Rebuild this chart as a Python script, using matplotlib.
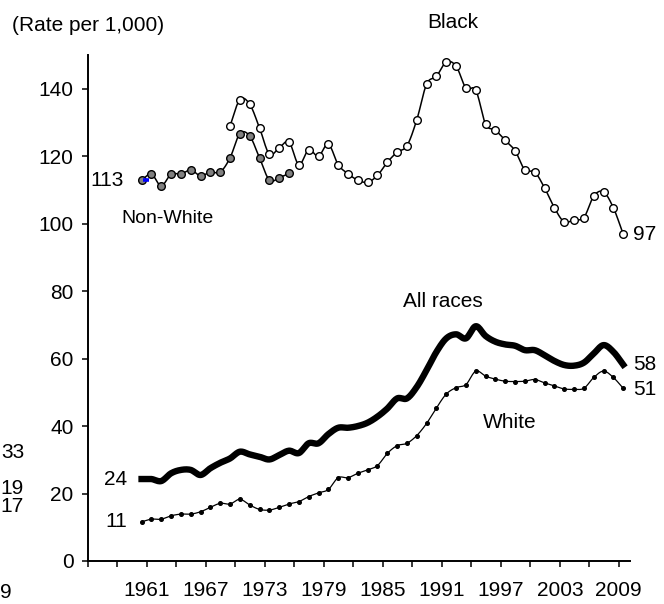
import numpy as np
import matplotlib
matplotlib.use("Agg")
import matplotlib.pyplot as plt

plt.rcParams['font.family'] = ['Liberation Sans', 'DejaVu Sans']
plt.rcParams['font.size'] = 15

# birth rates per 1,000
years_nonwhite = np.arange(1960, 1976)
nonwhite = [112.9, 114.7, 111.2, 114.7, 114.7, 115.9, 114.2, 115.3, 115.3, 119.5,
            126.7, 126.0, 119.5, 112.9, 113.6, 114.9]

years_black = np.arange(1969, 2010)
black = [129.0, 136.8, 135.4, 128.4, 120.6, 122.5, 124.2, 117.5, 121.9, 120.0,
         123.6, 117.5, 114.8, 112.9, 112.3, 114.3, 118.2, 121.2, 123.1, 130.8,
         141.4, 143.7, 147.9, 146.7, 140.2, 139.6, 129.5, 127.7, 124.7, 121.6,
         115.9, 115.3, 110.6, 104.7, 100.5, 101.2, 101.8, 108.2, 109.4, 104.7, 96.9]

years_all = np.arange(1960, 2010)
all_races = [24.3, 24.3, 23.7, 26.0, 27.0, 27.0, 25.5, 27.5, 29.1, 30.4,
             32.4, 31.6, 30.9, 30.1, 31.4, 32.7, 32.0, 34.9, 34.9, 37.6,
             39.5, 39.5, 40.0, 41.0, 42.8, 45.2, 48.2, 48.2, 51.6, 56.6,
             62.0, 66.0, 67.2, 66.0, 69.6, 66.7, 65.0, 64.2, 63.8, 62.5,
             62.5, 61.0, 59.3, 58.1, 57.9, 58.8, 61.5, 64.0, 62.0, 58.2]
white = [11.6, 12.4, 12.4, 13.4, 13.9, 13.9, 14.6, 15.9, 17.1, 16.9,
         18.3, 16.6, 15.3, 15.1, 15.9, 16.9, 17.6, 19.1, 20.2, 21.2,
         24.7, 24.7, 26.0, 27.0, 28.3, 31.9, 34.2, 34.9, 37.2, 40.8,
         45.4, 49.5, 51.4, 52.3, 56.3, 54.8, 53.9, 53.3, 53.2, 53.3,
         53.8, 52.8, 51.9, 51.0, 50.9, 51.2, 54.4, 56.3, 54.4, 51.2]

tick_years = np.arange(1955, 2011, 3)
label_years = np.arange(1961, 2010, 6)

# points sit mid-year
off = 0.45


def smooth(x, y, n=12):
    # catmull-rom curve through the points, like a smoothed line
    x = np.asarray(x, float)
    y = np.asarray(y, float)
    px = np.concatenate([[2 * x[0] - x[1]], x, [2 * x[-1] - x[-2]]])
    py = np.concatenate([[2 * y[0] - y[1]], y, [2 * y[-1] - y[-2]]])
    t = np.linspace(0, 1, n, endpoint=False)
    xs, ys = [], []
    for i in range(1, len(px) - 2):
        for p, out in ((px, xs), (py, ys)):
            p0, p1, p2, p3 = p[i - 1], p[i], p[i + 1], p[i + 2]
            out.extend(0.5 * (2 * p1 + (-p0 + p2) * t + (2 * p0 - 5 * p1 + 4 * p2 - p3) * t ** 2
                              + (-p0 + 3 * p1 - 3 * p2 + p3) * t ** 3))
    xs.append(x[-1])
    ys.append(y[-1])
    return xs, ys


fig = plt.figure(figsize=(6.64, 6.04), dpi=100)
ax = fig.add_axes([88 / 664, 43 / 604, 542 / 664, 506 / 604])

ax.plot(*smooth(years_all + off, all_races), color='black', lw=4.6,
        solid_joinstyle='round', zorder=3)
ax.plot(*smooth(years_all + off, white), color='black', lw=0.9, zorder=3)
ax.plot(years_all + off, white, ls='none', marker='o', ms=2.6, color='black', zorder=3)

ax.plot(*smooth(years_nonwhite + off, nonwhite), color='black', lw=1.1, zorder=3)
ax.plot(years_nonwhite + off, nonwhite, ls='none', marker='o', ms=5.5,
        mfc='#808080', mec='black', mew=1.0, zorder=3)
ax.plot(*smooth(years_black + off, black), color='black', lw=1.1, zorder=4)
ax.plot(years_black + off, black, ls='none', marker='o', ms=5.5,
        mfc='white', mec='black', mew=1.0, zorder=4)
# highlighted first non-white point
ax.plot([years_nonwhite[0] + off + 0.15, years_nonwhite[0] + off + 0.75],
        [nonwhite[0], nonwhite[0]], color='#0000ff', lw=2.6, solid_capstyle='butt', zorder=5)

ax.set_xlim(1955, 2010.14)
ax.set_ylim(0, 150)
ax.set_yticks(np.arange(0, 141, 20))
ax.set_xticks(tick_years)
ax.set_xticklabels([str(y) if y in label_years else '' for y in tick_years])

for s in ['top', 'right']:
    ax.spines[s].set_visible(False)
for s in ['left', 'bottom']:
    ax.spines[s].set_linewidth(1.4)
ax.tick_params(axis='both', direction='out', length=4.5, width=1.1, colors='black')
ax.tick_params(axis='x', pad=10)
ax.tick_params(axis='y', pad=6)

# series labels
ax.text(1955, 158.8, '(Rate per 1,000)', ha='center', va='center', clip_on=False)
ax.text(1992.1, 159.7, 'Black', ha='center', va='center', clip_on=False)
ax.text(1963.1, 101.6, 'Non-White', ha='center', va='center', fontsize=14)
ax.text(1991.1, 76.8, 'All races', ha='center', va='center')
ax.text(1997.9, 41.2, 'White', ha='center', va='center')

ax.text(years_nonwhite[0] + off - 1.8, nonwhite[0], '113', ha='right', va='center')
ax.text(years_all[0] + off - 1.5, all_races[0], '24', ha='right', va='center')
ax.text(years_all[0] + off - 1.5, white[0], '11', ha='right', va='center')
ax.text(years_black[-1] + off + 1.0, black[-1], '97', ha='left', va='center', clip_on=False)
ax.text(years_all[-1] + off + 1.0, all_races[-1], '58', ha='left', va='center', clip_on=False)
ax.text(years_all[-1] + off + 1.0, white[-1] - 0.3, '51', ha='left', va='center', clip_on=False)

# end labels of the neighbouring panel
fig.text(24 / 664, 1 - 452 / 604, '33', ha='right', va='center')
fig.text(24 / 664, 1 - 488 / 604, '19', ha='right', va='center')
fig.text(24 / 664, 1 - 507 / 604, '17', ha='right', va='center')
fig.text(0 / 664, 1 - 593 / 604, '9', ha='left', va='center')

fig.savefig('out.png', dpi=100)
